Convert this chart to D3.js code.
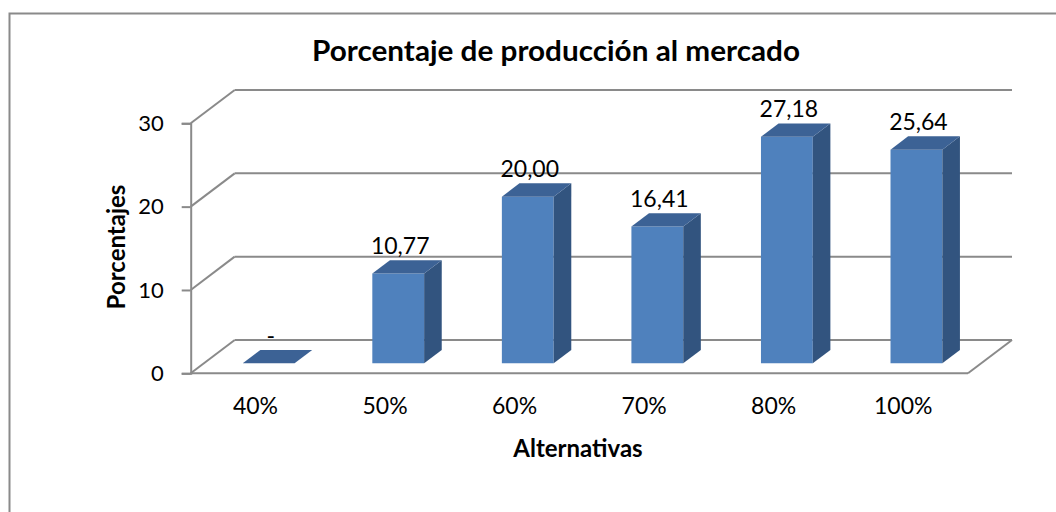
<!DOCTYPE html>
<html>
<head>
<meta charset="utf-8">
<script src="https://cdn.jsdelivr.net/npm/d3@7/dist/d3.min.js"></script>
<style>
  html, body { margin: 0; padding: 0; background: #fff; }
  svg { display: block; }
  text { font-family: Lato, "Open Sans", sans-serif; fill: #000; }
</style>
</head>
<body>
<svg id="chart" width="1056" height="512"></svg>
<script>
// Chart data
const categories = ["40%", "50%", "60%", "70%", "80%", "100%"];
const values = [0, 10.77, 20.00, 16.41, 27.18, 25.64];
const yTicks = [0, 10, 20, 30];
const chartTitle = "Porcentaje de producción al mercado";
const xTitle = "Alternativas";
const yTitle = "Porcentajes";

const svg = d3.select("#chart");

// Plot geometry (front plane of the 3-D box)
const plotLeft = 190.7, plotRight = 968, plotBottom = 373.3, plotTop = 123.3;
const depthX = 44, depthY = -33.3;       // full depth offset of the back wall
const barDepth0 = 0.3, barDepth1 = 0.7;  // bar position within the depth

const x = d3.scaleBand().domain(categories).range([plotLeft, plotRight]).paddingInner(0.6).paddingOuter(0.3);
const xCat = d3.scaleBand().domain(categories).range([plotLeft, plotRight]).padding(0);
const y = d3.scaleLinear().domain([0, 30]).range([plotBottom, plotTop]);

// project a front-plane point to a given depth fraction
const P = (px, py, d) => [px + d * depthX, py + d * depthY];

const gridColor = "#8a8a8a";
const labelSize = 23;

// Outer chart border (right and bottom fall outside the frame)
svg.append("path")
  .attr("d", `M9.5,600 L9.5,13.5 L1100,13.5`)
  .attr("fill", "none").attr("stroke", gridColor).attr("stroke-width", 2);

// Title
svg.append("text")
  .attr("x", 556).attr("y", 61)
  .attr("text-anchor", "middle")
  .attr("font-weight", "bold").attr("font-size", 28)
  .attr("textLength", 488).attr("lengthAdjust", "spacingAndGlyphs")
  .text(chartTitle);

const grid = svg.append("g").attr("fill", "none").attr("stroke", gridColor).attr("stroke-width", 2);

// Back wall gridlines + side wall diagonals
yTicks.forEach(t => {
  const [bx0, by0] = P(plotLeft, y(t), 1);
  const [bx1] = P(plotRight, y(t), 1);
  grid.append("line").attr("x1", plotLeft).attr("y1", y(t)).attr("x2", bx0).attr("y2", by0);
  grid.append("line").attr("x1", bx0).attr("y1", by0).attr("x2", bx1).attr("y2", by0);
});
// Floor front edge and right diagonal
{
  const [bx1, by1] = P(plotRight, y(0), 1);
  grid.append("line").attr("x1", plotLeft).attr("y1", y(0)).attr("x2", plotRight).attr("y2", y(0));
  grid.append("line").attr("x1", plotRight).attr("y1", y(0)).attr("x2", bx1).attr("y2", by1);
}

// Value axis
const yAxis = svg.append("g")
  .attr("transform", `translate(${plotLeft},0)`)
  .call(d3.axisLeft(y).tickValues(yTicks).tickSize(9).tickPadding(18).tickFormat(d3.format("d")));
yAxis.select(".domain").attr("stroke", gridColor).attr("stroke-width", 2);
yAxis.selectAll(".tick line").attr("stroke", gridColor).attr("stroke-width", 2);
yAxis.selectAll(".tick text").attr("font-size", 22).attr("font-family", "Lato, sans-serif").attr("fill", "#000");

// Category axis labels
const xAxis = svg.append("g")
  .attr("transform", `translate(0,${plotBottom})`)
  .call(d3.axisBottom(xCat).tickSize(0).tickPadding(24));
xAxis.select(".domain").remove();
xAxis.selectAll(".tick text").attr("font-size", labelSize).attr("font-family", "Lato, sans-serif").attr("fill", "#000");

// Axis titles
svg.append("text")
  .attr("x", 578).attr("y", 457)
  .attr("text-anchor", "middle")
  .attr("font-weight", "bold").attr("font-size", 24)
  .text(xTitle);

svg.append("text")
  .attr("transform", "translate(124.5,247) rotate(-90)")
  .attr("text-anchor", "middle")
  .attr("font-weight", "bold").attr("font-size", 24)
  .text(yTitle);

// 3-D bars
const colors = { front: "#4F81BD", side: "#32547F", top: "#3C6295" };
const bars = svg.append("g");
const pts = a => a.map(p => p.join(",")).join(" ");

categories.forEach((c, i) => {
  const v = values[i];
  const x0 = x(c), x1 = x(c) + x.bandwidth();
  const yb = y(0), yt = y(v);
  const g = bars.append("g");
  if (v > 0) {
    g.append("polygon").attr("fill", colors.front)
      .attr("points", pts([P(x0, yb, barDepth0), P(x1, yb, barDepth0), P(x1, yt, barDepth0), P(x0, yt, barDepth0)]));
    g.append("polygon").attr("fill", colors.side)
      .attr("points", pts([P(x1, yb, barDepth0), P(x1, yb, barDepth1), P(x1, yt, barDepth1), P(x1, yt, barDepth0)]));
  }
  g.append("polygon").attr("fill", colors.top)
    .attr("points", pts([P(x0, yt, barDepth0), P(x1, yt, barDepth0), P(x1, yt, barDepth1), P(x0, yt, barDepth1)]));

  // data label above the bar top
  const [lx] = P(x0 + x.bandwidth() / 2, yt, barDepth0);
  const [, ly] = P(0, yt, barDepth1);
  g.append("text")
    .attr("x", lx + 2).attr("y", ly - 6)
    .attr("text-anchor", "middle").attr("font-size", labelSize)
    .text(v === 0 ? "-" : v.toFixed(2).replace(".", ","));
});
</script>
</body>
</html>
